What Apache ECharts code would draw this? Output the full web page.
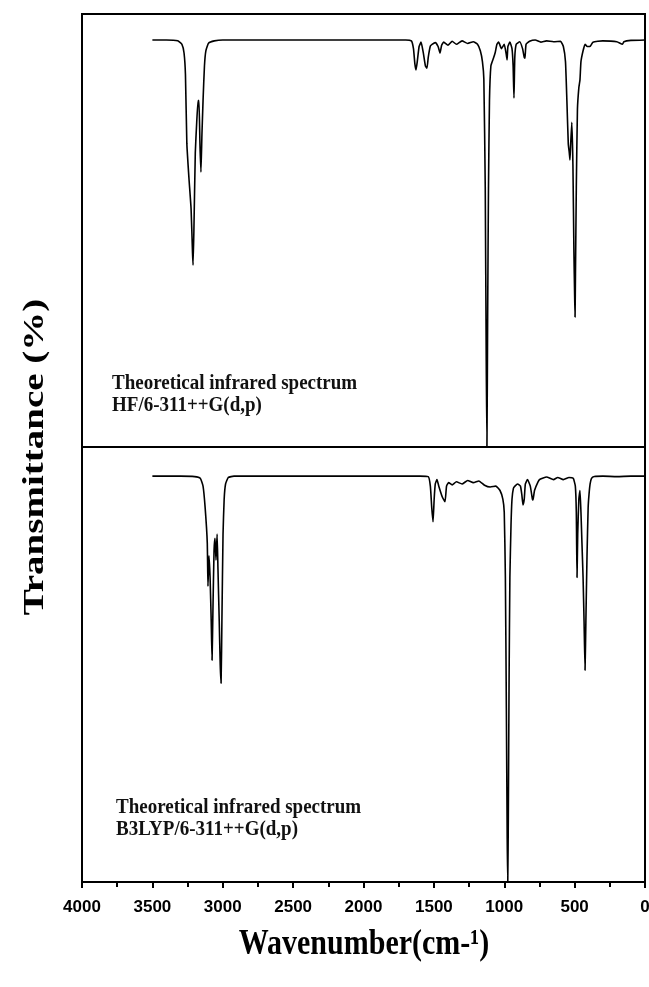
<!DOCTYPE html>
<html>
<head>
<meta charset="utf-8">
<script src="https://cdn.jsdelivr.net/npm/echarts@6/dist/echarts.min.js"></script>
<style>
html,body{margin:0;padding:0;background:#fff;}
#chart{width:649px;height:987px;}
</style>
</head>
<body>
<div id="chart"></div>
<script>
// Wavenumber (cm-1) vs transmittance (%)
const hfSpectrum = [
  [3500,94],[3400,94],[3320,93.8],[3290,93],[3275,91],[3265,86],[3255,70],[3240,62],[3225,55],[3215,45],[3211,42],
  [3205,50],[3195,68],[3185,75],[3175,80],[3169,80],[3162,70],[3155,63.5],[3148,72],[3140,80],[3130,88],[3120,91.5],
  [3100,93.3],[3060,93.8],[3000,94],[2500,94],[2000,94],[1700,94],[1660,93.8],[1645,92],[1635,88.5],[1627,87.1],
  [1618,89],[1605,92.5],[1591,93.5],[1575,91],[1560,88],[1549,87.5],[1540,90],[1525,92.6],[1513,93],[1490,93.4],
  [1470,92.5],[1456,91],[1445,92.8],[1430,93.5],[1400,92.8],[1370,93.7],[1340,93],[1300,93.8],[1260,93.2],
  [1220,93.6],[1190,93],[1170,91.5],[1155,89],[1145,85],[1135,60],[1128,20],[1123,0],[1118,30],[1112,60],
  [1105,80],[1095,88],[1080,89.5],[1065,91],[1052,93],[1040,93.5],[1020,92],[1000,93],[985,90.5],[980,89.4],
  [974,92.5],[960,93.5],[945,92],[937,88],[931,80.6],[925,90],[915,93],[890,93.6],[870,92],[858,90],[853,89.8],
  [845,93],[820,93.7],[780,94],[740,93.5],[700,93.8],[650,93.6],[600,93.7],[580,92.5],[565,89],[555,80],
  [545,70],[538,68],[533,66.3],[528,70],[520,75],[512,65],[505,45],[500,35],[497,30],[494,40],[488,60],
  [480,78],[470,83],[462,84.8],[455,89],[440,91.5],[426,93],[410,92.5],[391,92.5],[370,93.5],[300,93.8],
  [200,93.6],[160,93],[150,93.6],[100,93.9],[0,94]
];
const b3lypSpectrum = [
  [3500,93.3],[3300,93.3],[3200,93.2],[3160,92.8],[3140,91],[3125,86],[3110,78],[3105,68],[3098,75],[3090,70],
  [3082,60],[3076,51],[3070,62],[3062,76],[3055,79],[3048,74],[3040,80],[3034,72],[3025,60],[3018,50],[3012,45.7],
  [3006,60],[2998,80],[2990,88],[2980,91.5],[2960,93],[2920,93.3],[2500,93.3],[2000,93.3],[1600,93.3],
  [1540,93.2],[1525,91],[1515,86],[1506,82.8],[1498,88],[1490,91.5],[1478,92.5],[1465,91],[1440,88.5],
  [1421,87.4],[1410,91],[1395,91.8],[1370,91.3],[1340,92],[1300,91.5],[1260,92.3],[1220,91.8],[1180,92.2],
  [1140,91.2],[1100,90.8],[1060,91],[1030,90],[1010,88],[1000,85],[992,70],[985,40],[979,10],[975,0],
  [971,15],[966,45],[960,70],[952,82],[945,88],[935,90.5],[924,91],[905,91.5],[885,91],[875,89],[867,86.7],
  [858,88],[850,91.5],[835,92.5],[815,91],[800,88],[796,87.8],[785,90],[760,92],[746,92.6],[700,93.1],
  [650,92.5],[620,93],[580,92.5],[540,93],[510,92.8],[495,91],[488,85],[483,70],[478,80],[470,88],[462,90],
  [455,85],[448,78],[440,70],[433,60],[426,48.7],[420,60],[412,75],[404,86],[398,89],[390,91.5],[380,92.8],
  [360,93.2],[300,93.3],[200,93.2],[100,93.3],[0,93.3]
];
const xTicks = [4000,3500,3000,2500,2000,1500,1000,500,0];
const labelsTop = ['Theoretical infrared spectrum','HF/6-311++G(d,p)'];
const labelsBottom = ['Theoretical infrared spectrum','B3LYP/6-311++G(d,p)'];

const chart = echarts.init(document.getElementById('chart'), null, {renderer:'canvas'});
const serif = '"Liberation Serif","Times New Roman",serif';
const sans = '"Liberation Sans",Arial,sans-serif';

function xAxisCfg(idx, showLabels){
  return {
    type:'value', gridIndex:idx, min:0, max:4000, interval:500, inverse:true,
    axisLine:{show:true, lineStyle:{color:'#000', width:2}},
    axisTick:{show:showLabels, inside:false, length:6, lineStyle:{color:'#000', width:2}},
    minorTick:{show:showLabels, splitNumber:2, length:5, lineStyle:{color:'#000', width:2}},
    axisLabel:{show:showLabels, color:'#000', fontFamily:sans, fontWeight:'bold', fontSize:17, margin:17,
      showMinLabel:true, showMaxLabel:true, hideOverlap:false,
      formatter:v => xTicks.indexOf(v) >= 0 ? String(v) : ''},
    splitLine:{show:false}
  };
}
function yAxisCfg(idx){
  return {
    type:'value', gridIndex:idx, min:0, max:100,
    axisLine:{show:false}, axisTick:{show:false}, axisLabel:{show:false}, splitLine:{show:false}
  };
}

const option = {
  animation:false,
  backgroundColor:'#fff',
  grid:[
    {left:82, top:14, width:563, height:433, show:true, borderColor:'#000', borderWidth:2,
      backgroundColor:'transparent', containLabel:false, outerBoundsMode:'none'},
    {left:82, top:447, width:563, height:435, show:true, borderColor:'#000', borderWidth:2,
      backgroundColor:'transparent', containLabel:false, outerBoundsMode:'none'}
  ],
  xAxis:[xAxisCfg(0,false), xAxisCfg(1,true)],
  yAxis:[yAxisCfg(0), yAxisCfg(1)],
  series:[
    {type:'line', xAxisIndex:0, yAxisIndex:0, data:hfSpectrum, showSymbol:false, smooth:0.15,
      lineStyle:{color:'#000', width:1.6}, clip:true},
    {type:'line', xAxisIndex:1, yAxisIndex:1, data:b3lypSpectrum, showSymbol:false, smooth:0.15,
      lineStyle:{color:'#000', width:1.6}, clip:true}
  ],
  graphic:[
    {type:'text', x:112, y:384, scaleY:1.12, style:{text:labelsTop[0], font:'bold 19px '+serif, fill:'#111', verticalAlign:'middle'}},
    {type:'text', x:112, y:406, scaleY:1.12, style:{text:labelsTop[1], font:'bold 19px '+serif, fill:'#111', verticalAlign:'middle'}},
    {type:'text', x:116, y:808, scaleY:1.12, style:{text:labelsBottom[0], font:'bold 19px '+serif, fill:'#111', verticalAlign:'middle'}},
    {type:'text', x:116, y:830, scaleY:1.12, style:{text:labelsBottom[1], font:'bold 19px '+serif, fill:'#111', verticalAlign:'middle'}},
    {type:'text', x:35, y:457, rotation:Math.PI/2, scaleX:1.3, style:{text:'Transmittance (%)', font:'bold 30px '+serif, fill:'#000', align:'center', verticalAlign:'middle'}},
    {type:'text', x:364, y:945, scaleY:1.18, style:{text:'Wavenumber(cm-¹)', font:'bold 30px '+serif, fill:'#000', align:'center', verticalAlign:'middle'}}
  ]
};
chart.setOption(option);
</script>
</body>
</html>
